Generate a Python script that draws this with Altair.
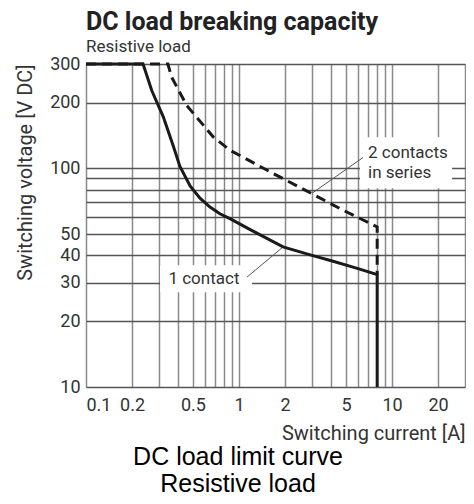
import altair as alt
import pandas as pd

# ---- data ----
one_x = [0.1, 0.236, 0.269, 0.32, 0.37, 0.411, 0.479, 0.556, 0.646, 0.75, 0.873, 1.2, 1.94, 3.0, 4.12, 6.0, 8.0, 8.0]
one_y = [300, 300, 227, 172, 128, 102, 83, 73, 66.5, 62, 58.9, 52.2, 43.7, 40, 37.6, 34.8, 32.7, 10]

two_x = [0.1, 0.343, 0.363, 0.455, 0.68, 0.874, 1.68, 2.99, 4.8, 8.0, 8.0]
two_y = [300, 300, 261, 194, 139, 121, 94.6, 76.6, 64.3, 54, 32.7]

x_grid = [0.1, 0.2, 0.3, 0.4, 0.5, 0.6, 0.7, 0.8, 0.9, 1, 2, 3, 4, 5, 6, 7, 8, 9, 10, 20, 30]
x_labels = [0.1, 0.2, 0.5, 1, 2, 5, 10, 20]
y_grid = [10, 20, 30, 40, 50, 60, 70, 80, 90, 100, 200, 300]
y_labels = [10, 20, 30, 40, 50, 100, 200, 300]

# annotation boxes (white backgrounds), leaders and labels
box_x = [0.305, 6.18]
box_x2 = [1.216, 24.7]
box_y = [27.1, 81.1]
box_y2 = [36.0, 138.7]

lead_x = [1.128, 6.46]
lead_y = [31.8, 112]
lead_x2 = [1.94, 3.0]
lead_y2 = [43.7, 76.9]

lab_left_text = ["2 contacts", "in series"]
lab_left_x = [6.97, 6.97]
lab_left_y = [118, 94.8]
lab_center_text = ["1 contact"]
lab_center_x = [0.59]
lab_center_y = [31.1]

title_text = "DC load breaking capacity"
subtitle_text = "Resistive load"
x_title = "Switching current [A]"
y_title = "Switching voltage [V DC]"
captions = ["DC load limit curve", "Resistive load"]

NARROW = "Roboto"
REG = "Liberation Sans"

W, H = 379, 323

xscale = alt.Scale(type="log", domain=[0.1, 30], nice=False)
yscale = alt.Scale(type="log", domain=[10, 300], nice=False)

x_lab_expr = "indexof([" + ",".join(str(v) for v in x_labels) + "], datum.value) >= 0 ? datum.label : ''"
y_lab_expr = "indexof([" + ",".join(str(v) for v in y_labels) + "], datum.value) >= 0 ? datum.label : ''"

xaxis = alt.Axis(values=x_grid, labelExpr=x_lab_expr, title=x_title, grid=True,
                 gridColor="#8a8a8a", gridWidth=1.5, domain=False, ticks=False,
                 labelOverlap=False, labelFlush=True, labelPadding=9, labelFontSize=18,
                 labelFont=NARROW, labelColor="#333", titleFont=NARROW, titleFontSize=20,
                 titleFontWeight="normal", titleColor="#333", titleAnchor="end",
                 titlePadding=9, format="~g")
yaxis = alt.Axis(values=y_grid, labelExpr=y_lab_expr, title=y_title, grid=True,
                 gridColor="#555", gridWidth=1.3, domain=False, ticks=False,
                 labelOverlap=False, labelFlush=False, labelPadding=6, labelFontSize=18,
                 labelFont=NARROW, labelColor="#333", titleFont=NARROW, titleFontSize=20,
                 titleFontWeight="normal", titleColor="#333", titleAnchor="end",
                 titlePadding=14, format="~g")

df_one = pd.DataFrame({"x": one_x, "y": one_y, "o": range(len(one_x))})
df_two = pd.DataFrame({"x": two_x, "y": two_y, "o": range(len(two_x))})
df_box = pd.DataFrame({"x": box_x, "x2": box_x2, "y": box_y, "y2": box_y2})
df_lead = pd.DataFrame({"x": lead_x, "x2": lead_x2, "y": lead_y, "y2": lead_y2})
df_ll = pd.DataFrame({"x": lab_left_x, "y": lab_left_y, "t": lab_left_text})
df_lc = pd.DataFrame({"x": lab_center_x, "y": lab_center_y, "t": lab_center_text})
df_cap = pd.DataFrame({"t": captions})

X = alt.X("x:Q", scale=xscale, axis=xaxis)
Y = alt.Y("y:Q", scale=yscale, axis=yaxis)

boxes = alt.Chart(df_box).mark_rect(fill="white").encode(
    x=X, x2="x2:Q", y=Y, y2="y2:Q")
leaders = alt.Chart(df_lead).mark_rule(color="#555", strokeWidth=1).encode(
    x=X, x2="x2:Q", y=Y, y2="y2:Q")
lab_left = alt.Chart(df_ll).mark_text(align="left", baseline="middle", font=NARROW,
                                      fontSize=17, color="#333").encode(x=X, y=Y, text="t:N")
lab_center = alt.Chart(df_lc).mark_text(align="center", baseline="middle", font=NARROW,
                                        fontSize=17, color="#333").encode(x=X, y=Y, text="t:N")
line_two = alt.Chart(df_two).mark_line(color="#1a1a1a", strokeWidth=3, strokeDash=[10, 6]).encode(
    x=X, y=Y, order="o:Q")
line_one = alt.Chart(df_one).mark_line(color="#1a1a1a", strokeWidth=3).encode(
    x=X, y=Y, order="o:Q")
cap1 = alt.Chart(df_cap.iloc[[0]]).mark_text(align="center", baseline="alphabetic", font=REG,
                                            fontSize=25, color="black").encode(
    text="t:N", x=alt.value(152), y=alt.value(401))
cap2 = alt.Chart(df_cap.iloc[[1]]).mark_text(align="center", baseline="alphabetic", font=REG,
                                            fontSize=25, color="black").encode(
    text="t:N", x=alt.value(152), y=alt.value(428))

chart = alt.layer(boxes, leaders, lab_left, lab_center, line_two, line_one, cap1, cap2).properties(
    width=W, height=H,
    title=alt.TitleParams(text=title_text, subtitle=subtitle_text, anchor="start", frame="group",
                          font=NARROW, fontSize=25, fontWeight="bold", color="#222",
                          subtitleFont=NARROW, subtitleFontSize=17, subtitleColor="#333",
                          subtitlePadding=4, offset=0),
    autosize=alt.AutoSizeParams(type="none"),
    padding={"left": 78, "top": 56, "right": 1, "bottom": 109},
).configure_view(stroke="#777", strokeWidth=1.5).configure(background="white")

chart.save("out.html", embed_options={"renderer": "svg", "actions": False})
